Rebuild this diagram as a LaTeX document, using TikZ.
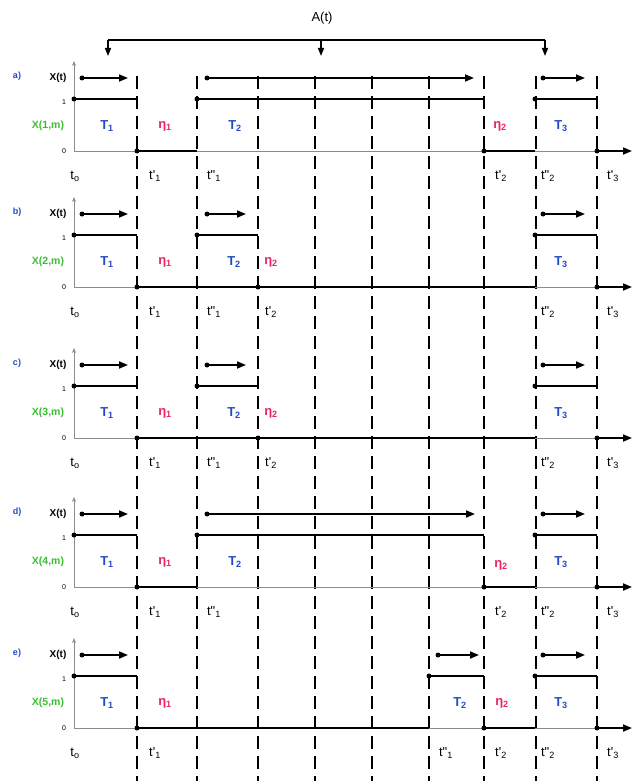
\documentclass[tikz,border=0pt]{standalone}
\usepackage{fontspec}
\setmainfont{Liberation Sans}
\usetikzlibrary{arrows.meta}
\definecolor{lblue}{RGB}{35,75,195}
\definecolor{lred}{RGB}{230,40,95}
\definecolor{lgreen}{RGB}{60,190,50}
\tikzset{
  dashv/.style={line width=1.8pt, dash pattern=on 13pt off 7pt},
  sig/.style={line width=1.6pt},
  axisc/.style={line width=0.7pt, black!45},
  xarr/.style={line width=1.8pt, -{Triangle[length=9pt,width=7pt]}},
  brk/.style={line width=1.5pt},
  brkarr/.style={line width=1.5pt, -{Triangle[length=8pt,width=6pt]}},
  dotc/.style={circle, fill, inner sep=0pt, minimum size=5pt},
  atl/.style={font=\fontsize{13}{15}\selectfont},
  plab/.style={font=\fontsize{9}{10}\selectfont\bfseries, text=lblue},
  xtl/.style={font=\fontsize{10}{11}\selectfont\bfseries},
  xml/.style={font=\fontsize{10.5}{12}\selectfont\bfseries, text=lgreen},
  lvl/.style={font=\fontsize{7}{8}\selectfont},
  Tl/.style={font=\fontsize{13}{14}\selectfont\bfseries, text=lblue},
  etl/.style={font=\fontsize{13}{14}\selectfont\bfseries, text=lred},
  tl/.style={font=\fontsize{13}{14}\selectfont},
}
\newcommand\pbase[2]{%
  \draw[axisc,-{Stealth[length=5pt,width=4pt]}] (74,0) -- (74,-90);
  \draw[axisc] (74,0) -- (597,0);
  \node[plab] (p#2-lab) at (17,-75) {#1)};
  \node[xtl] (p#2-xt) at (58,-73) {X(t)};
  \node[lvl] (p#2-one) at (64,-49) {1};
  \node[xml] (p#2-xm) at (48,-25) {X(#2,m)};
  \node[lvl] (p#2-zero) at (64,0) {0};
  \node[tl] (p#2-t0) at (75,25) {t\textsubscript{o}};
  \node[tl] (p#2-t1a) at (155,25) {t\textquotesingle\textsubscript{1}};
  \node[Tl] (p#2-T1) at (107,-25) {T\textsubscript{1}};
  \node[etl] (p#2-e1) at (165,-25) {η\textsubscript{1}};
  \node[Tl] (p#2-T3) at (561,-25) {T\textsubscript{3}};
  \node[tl] (p#2-t2b) at (548,25) {t\textquotedbl\textsubscript{2}};
  \node[tl] (p#2-t3a) at (613,25) {t\textquotesingle\textsubscript{3}};
  \coordinate (p#2-s0) at (74,-52); \coordinate (p#2-s1) at (137,-52);
  \draw[sig] (p#2-s0) -- (p#2-s1);
  \node[dotc] at (p#2-s0) {};
  \node[dotc] (p#2-d1) at (137,0) {};
  \coordinate (p#2-s5) at (535,-52); \coordinate (p#2-s6) at (597,-52);
  \draw[sig] (p#2-s5) -- (p#2-s6);
  \node[dotc] at (p#2-s5) {};
  \coordinate (p#2-end) at (632,0);
  \node[dotc] (p#2-d3) at (597,0) {};
  \draw[xarr] (p#2-d3.center) -- (p#2-end);
  \coordinate (p#2-a1s) at (82,-73); \coordinate (p#2-a1e) at (128,-73);
  \draw[xarr] (p#2-a1s) -- (p#2-a1e); \node[dotc] at (p#2-a1s) {};
  \coordinate (p#2-a3s) at (543,-73); \coordinate (p#2-a3e) at (585,-73);
  \draw[xarr] (p#2-a3s) -- (p#2-a3e); \node[dotc] at (p#2-a3s) {};
}
\begin{document}
\begin{tikzpicture}[x=1pt,y=-1pt]
\useasboundingbox (0,0) rectangle (643,781);
% A(t) bracket
\node[atl] (At) at (322,18) {A(t)};
\coordinate (bl) at (108,40); \coordinate (bm) at (321,40); \coordinate (br) at (545,40);
\coordinate (bl2) at (108,56); \coordinate (bm2) at (321,56); \coordinate (br2) at (545,56);
\draw[brk] (bl) -- (br);
\draw[brkarr] (bl) -- (bl2);
\draw[brkarr] (bm) -- (bm2);
\draw[brkarr] (br) -- (br2);
% dashed time markers
\foreach \x in {137,197,258,315,372,429,484,536,597}
  \draw[dashv] (\x,76) -- (\x,781);

% panel a
\begin{scope}[shift={(0,151)}]
\pbase{a}{1}
\draw[sig] (137,0) -- (197,0);
\draw[sig] (197,-52) -- (484,-52); \node[dotc] at (197,-52) {};
\draw[sig] (484,0) -- (535,0); \node[dotc] at (484,0) {};
\coordinate (a-a2s) at (207,-73); \coordinate (a-a2e) at (474,-73);
\draw[xarr] (a-a2s) -- (a-a2e); \node[dotc] at (a-a2s) {};
\node[Tl] (a-T2) at (235,-25) {T\textsubscript{2}};
\node[etl] (a-e2) at (500,-25) {η\textsubscript{2}};
\node[tl] (a-t1b) at (214,25) {t\textquotedbl\textsubscript{1}};
\node[tl] (a-t2a) at (501,25) {t\textquotesingle\textsubscript{2}};
\end{scope}

% panel b
\begin{scope}[shift={(0,287)}]
\pbase{b}{2}
\draw[sig] (137,0) -- (535,0);
\draw[sig] (197,-52) -- (258,-52); \node[dotc] at (197,-52) {};
\node[dotc] at (258,0) {};
\coordinate (b-a2s) at (207,-73); \coordinate (b-a2e) at (246,-73);
\draw[xarr] (b-a2s) -- (b-a2e); \node[dotc] at (b-a2s) {};
\node[Tl] (b-T2) at (234,-25) {T\textsubscript{2}};
\node[etl] (b-e2) at (271,-25) {η\textsubscript{2}};
\node[tl] (b-t1b) at (214,25) {t\textquotedbl\textsubscript{1}};
\node[tl] (b-t2a) at (271,25) {t\textquotesingle\textsubscript{2}};
\end{scope}

% panel c
\begin{scope}[shift={(0,438)}]
\pbase{c}{3}
\draw[sig] (137,0) -- (535,0);
\draw[sig] (197,-52) -- (258,-52); \node[dotc] at (197,-52) {};
\node[dotc] at (258,0) {};
\coordinate (c-a2s) at (207,-73); \coordinate (c-a2e) at (246,-73);
\draw[xarr] (c-a2s) -- (c-a2e); \node[dotc] at (c-a2s) {};
\node[Tl] (c-T2) at (234,-25) {T\textsubscript{2}};
\node[etl] (c-e2) at (271,-25) {η\textsubscript{2}};
\node[tl] (c-t1b) at (214,25) {t\textquotedbl\textsubscript{1}};
\node[tl] (c-t2a) at (271,25) {t\textquotesingle\textsubscript{2}};
\end{scope}

% panel d
\begin{scope}[shift={(0,587)}]
\pbase{d}{4}
\draw[sig] (137,0) -- (197,0);
\draw[sig] (197,-52) -- (484,-52); \node[dotc] at (197,-52) {};
\draw[sig] (484,0) -- (535,0); \node[dotc] at (484,0) {};
\coordinate (d-a2s) at (207,-73); \coordinate (d-a2e) at (475,-73);
\draw[xarr] (d-a2s) -- (d-a2e); \node[dotc] at (d-a2s) {};
\node[Tl] (d-T2) at (235,-25) {T\textsubscript{2}};
\node[etl] (d-e2) at (501,-22) {η\textsubscript{2}};
\node[tl] (d-t1b) at (214,25) {t\textquotedbl\textsubscript{1}};
\node[tl] (d-t2a) at (501,25) {t\textquotesingle\textsubscript{2}};
\end{scope}

% panel e
\begin{scope}[shift={(0,728)}]
\pbase{e}{5}
\draw[sig] (137,0) -- (429,0);
\draw[sig] (429,-52) -- (484,-52); \node[dotc] at (429,-52) {};
\draw[sig] (484,0) -- (535,0); \node[dotc] at (484,0) {};
\coordinate (e-a2s) at (438,-73); \coordinate (e-a2e) at (479,-73);
\draw[xarr] (e-a2s) -- (e-a2e); \node[dotc] at (e-a2s) {};
\node[Tl] (e-T2) at (460,-25) {T\textsubscript{2}};
\node[etl] (e-e2) at (502,-25) {η\textsubscript{2}};
\node[tl] (e-t1b) at (446,25) {t\textquotedbl\textsubscript{1}};
\node[tl] (e-t2a) at (501,25) {t\textquotesingle\textsubscript{2}};
\end{scope}
\end{tikzpicture}
\end{document}
